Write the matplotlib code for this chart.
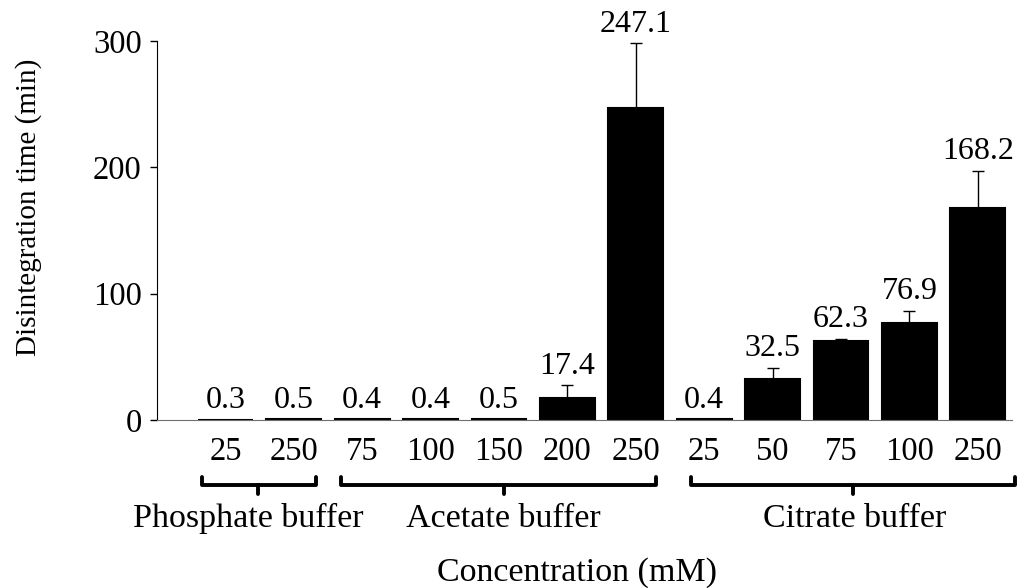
import matplotlib
matplotlib.use("Agg")
import matplotlib.pyplot as plt
import matplotlib.transforms as mtransforms
import numpy as np

concentrations = ["25", "250", "75", "100", "150", "200", "250", "25", "50", "75", "100", "250"]
times = [0.3, 0.5, 0.4, 0.4, 0.5, 17.4, 247.1, 0.4, 32.5, 62.3, 76.9, 168.2]
errors = [0, 0, 0, 0, 0, 10, 51, 0, 9, 2, 9.6, 29]
buffers = ["Phosphate buffer", "Acetate buffer", "Citrate buffer"]
# bracket spans (start, middle, end) in bar-index units, and label centres
bracket_spans = [(-0.34, 0.48, 1.33), (1.69, 4.07, 6.29), (6.80, 9.18, 11.55)]
buffer_label_x = [0.34, 4.06, 9.2]

plt.rcParams["font.family"] = ["Liberation Serif", "DejaVu Serif"]
plt.rcParams["font.size"] = 23.5

fig = plt.figure(figsize=(10.36, 5.88), dpi=100)
ax = fig.add_axes([157 / 1036, 1 - 420 / 588, 855 / 1036, 379 / 588])

x = np.arange(len(times))
ax.bar(x, times, width=0.8, color="black", edgecolor="black", linewidth=1.5)
ax.errorbar(x, times, yerr=[np.zeros(len(errors)), errors], fmt="none",
            ecolor="black", elinewidth=1, capsize=4, capthick=1)

for xi, t, e in zip(x, times, errors):
    ax.annotate(f"{t:.1f}", (xi, t + e), xytext=(0, 8.5), textcoords="offset points",
                ha="center", va="baseline", fontsize=23)

ax.set_xlim(-1, 11.5)
ax.set_ylim(0, 300)
ax.set_yticks([0, 100, 200, 300])
ax.set_xticks(x)
ax.set_xticklabels(concentrations)
ax.tick_params(axis="x", length=0, pad=12)
ax.tick_params(axis="y", length=5, width=1, pad=6, direction="out")

ax.spines["top"].set_visible(False)
ax.spines["right"].set_visible(False)
ax.spines["bottom"].set_color("#6e6e6e")
ax.spines["left"].set_color("black")

ax.set_ylabel("Disintegration time (min)", fontsize=21)
ax.yaxis.set_label_coords(-0.134, 0.562)
ax.set_xlabel("Concentration (mM)", fontsize=24.5)
ax.xaxis.label.set_verticalalignment("baseline")
ax.xaxis.set_label_coords(0.491, -0.425)

trans = mtransforms.blended_transform_factory(ax.transData, ax.transAxes)
y_line, y_end, y_tick = -0.1715, -0.150, -0.195
for (x0, xm, x1), lx, name in zip(bracket_spans, buffer_label_x, buffers):
    ax.plot([x0, x0, x1, x1], [y_end, y_line, y_line, y_end], color="black", lw=2.8,
            transform=trans, clip_on=False, solid_joinstyle="round", solid_capstyle="round")
    ax.plot([xm, xm], [y_line, y_tick], color="black", lw=2.8,
            transform=trans, clip_on=False, solid_capstyle="round")
    ax.text(lx, -0.282, name, transform=trans, ha="center", va="baseline", fontsize=24.5)

fig.savefig("out.png", dpi=100)
